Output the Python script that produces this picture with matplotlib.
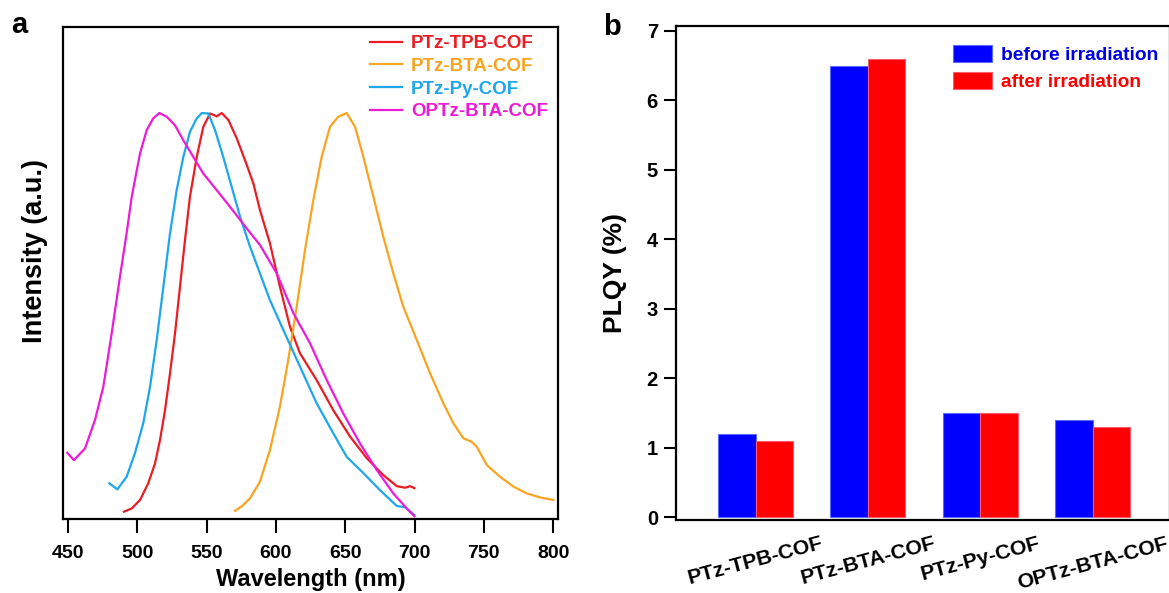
import matplotlib
matplotlib.use("Agg")
import matplotlib.pyplot as plt
import numpy as np

plt.rcParams['font.family'] = ['Liberation Sans', 'DejaVu Sans']
plt.rcParams['font.weight'] = 'bold'
plt.rcParams['axes.labelweight'] = 'bold'

# PL spectra (normalised intensity)
wl_tpb = [490.4, 496, 502, 507.9, 512.8, 516.4, 520, 523.6, 527.2, 530.8, 534.4, 538,
          542.9, 547.6, 552.5, 557.3, 560.9, 565.7, 571.7, 577.7, 583.7, 588.5, 595.7,
          602.9, 610.1, 617.4, 629.4, 641.4, 653.5, 665.5, 677.5, 687.2, 693.2, 696.8, 699.9]
int_tpb = [0.018, 0.026, 0.047, 0.088, 0.137, 0.195, 0.268, 0.359, 0.457, 0.572, 0.687, 0.794,
           0.892, 0.966, 0.999, 0.992, 1.0, 0.983, 0.938, 0.884, 0.827, 0.761, 0.679,
           0.572, 0.474, 0.408, 0.342, 0.268, 0.203, 0.150, 0.108, 0.081, 0.077, 0.081, 0.076]

wl_bta = [570.5, 576, 581.3, 588.5, 595.7, 602.9, 608.9, 615, 621, 627, 633, 639, 645, 651.1,
          657.1, 663.1, 670.3, 677.5, 684.7, 691.9, 701.6, 711.2, 720.8, 728, 735.2, 741.3,
          744.9, 752.1, 761.7, 771.3, 781, 790.6, 800.2]
int_bta = [0.020, 0.033, 0.051, 0.092, 0.170, 0.277, 0.392, 0.523, 0.663, 0.786, 0.892, 0.966,
           0.991, 1.0, 0.966, 0.892, 0.794, 0.695, 0.605, 0.523, 0.441, 0.359, 0.285, 0.236,
           0.199, 0.190, 0.178, 0.133, 0.104, 0.080, 0.063, 0.053, 0.047]

wl_py = [479.8, 485.6, 492.3, 498.3, 504.3, 509.2, 514, 518.8, 523.6, 528.4, 533.2, 538,
         542.9, 546.5, 551.2, 556.1, 562, 568.1, 574.1, 581.3, 588.5, 595.7, 605.3, 617.4,
         629.4, 641.4, 651.1, 663.1, 675.1, 687.2, 693.2, 699.9]
int_py = [0.088, 0.073, 0.104, 0.162, 0.236, 0.326, 0.441, 0.572, 0.704, 0.810, 0.892, 0.954,
          0.987, 1.0, 0.999, 0.958, 0.892, 0.818, 0.745, 0.671, 0.605, 0.539, 0.466, 0.375,
          0.285, 0.211, 0.153, 0.113, 0.071, 0.032, 0.029, 0.010]

wl_opt = [449.5, 454.3, 462.3, 469.5, 475.5, 481.5, 487.5, 492.3, 496, 502, 506.8, 511.5,
          515.9, 521.2, 527.2, 533.2, 540.4, 547.6, 557.3, 566.9, 578.9, 588.5, 600.6, 612.6,
          624.6, 636.7, 648.6, 660.7, 672.7, 684.7, 694.4, 699.9]
int_opt = [0.163, 0.145, 0.174, 0.244, 0.326, 0.457, 0.597, 0.704, 0.794, 0.901, 0.958, 0.987,
           1.0, 0.991, 0.970, 0.933, 0.892, 0.851, 0.810, 0.769, 0.716, 0.675, 0.605, 0.507,
           0.433, 0.342, 0.260, 0.186, 0.121, 0.063, 0.026, 0.007]

spec_names = ['PTz-TPB-COF', 'PTz-BTA-COF', 'PTz-Py-COF', 'OPTz-BTA-COF']
spec_colors = ['#ea1c24', '#f7a520', '#1ea7ea', '#ec1bd6']

# PLQY (%)
cofs = ['PTz-TPB-COF', 'PTz-BTA-COF', 'PTz-Py-COF', 'OPTz-BTA-COF']
plqy_before = [1.2, 6.5, 1.5, 1.4]
plqy_after = [1.1, 6.6, 1.5, 1.3]

W, H = 1169, 593
fig = plt.figure(figsize=(W / 100, H / 100), dpi=100)

# ---- panel a ----
ax1 = fig.add_axes([63 / W, 1 - 519 / H, 495 / W, 492 / H])
series = [(wl_tpb, int_tpb), (wl_bta, int_bta), (wl_py, int_py), (wl_opt, int_opt)]
for (x, y), name, c in zip(series, spec_names, spec_colors):
    ax1.plot(x, y, color=c, lw=1.6, label=name)
ax1.set_xlim(446.4, 803.5)
ax1.set_ylim(0, 1.212)
ax1.set_xticks(np.arange(450, 801, 50))
ax1.set_yticks([])
ax1.tick_params(axis='x', direction='out', length=10, width=1.5, labelsize=14, pad=8.5)
for s in ax1.spines.values():
    s.set_linewidth(1.6)
ax1.set_xlabel('Wavelength (nm)', fontsize=17)
ax1.xaxis.set_label_coords(0.5, -0.1)
ax1.set_ylabel('Intensity (a.u.)', fontsize=19.5)
ax1.yaxis.set_label_coords(-0.03, 0.545)
leg1 = ax1.legend(loc='upper left', bbox_to_anchor=(370 / W, 1 - 35 / H),
                  bbox_transform=fig.transFigure, frameon=False, fontsize=13.5,
                  handlelength=1.7, handletextpad=0.5, labelspacing=0.3,
                  borderpad=0, borderaxespad=0)
for t, c in zip(leg1.get_texts(), spec_colors):
    t.set_color(c)

# ---- panel b ----
ax2 = fig.add_axes([676 / W, 1 - 520 / H, 494 / W, 494 / H])
pos = np.arange(len(cofs))
bw = 0.334
ax2.bar(pos - bw / 2, plqy_before, bw, color='#0000ff', edgecolor='#5a6cff', lw=0.8,
        label='before irradiation')
ax2.bar(pos + bw / 2, plqy_after, bw, color='#ff0000', edgecolor='#ff5a6a', lw=0.8,
        label='after irradiation')
ax2.set_xlim(-0.71, 3.69)
ax2.set_ylim(-0.043, 7.07)
ax2.set_yticks(range(0, 8))
ax2.set_xticks(pos)
ax2.set_xticklabels(cofs, rotation=15, ha='center', fontsize=15.3)
ax2.tick_params(axis='x', length=0, pad=10)
ax2.tick_params(axis='y', direction='out', length=9, width=1.5, labelsize=14.5, pad=4)
for s in ax2.spines.values():
    s.set_linewidth(1.6)
ax2.set_ylabel('PLQY (%)', fontsize=19)
ax2.yaxis.set_label_coords(-0.099, 0.5)
leg2 = ax2.legend(loc='upper left', bbox_to_anchor=(953 / W, 1 - 45 / H),
                  bbox_transform=fig.transFigure, frameon=False, fontsize=13.8,
                  handlelength=2.05, handleheight=1.0, handletextpad=0.45,
                  labelspacing=0.4, borderpad=0, borderaxespad=0)
for t, c in zip(leg2.get_texts(), ['#0000e6', '#ff0000']):
    t.set_color(c)

fig.text(11 / W, 1 - 33 / H, 'a', fontsize=21, fontweight='bold', va='baseline')
fig.text(603 / W, 1 - 35 / H, 'b', fontsize=21, fontweight='bold', va='baseline')

fig.savefig('out.png', dpi=100)
